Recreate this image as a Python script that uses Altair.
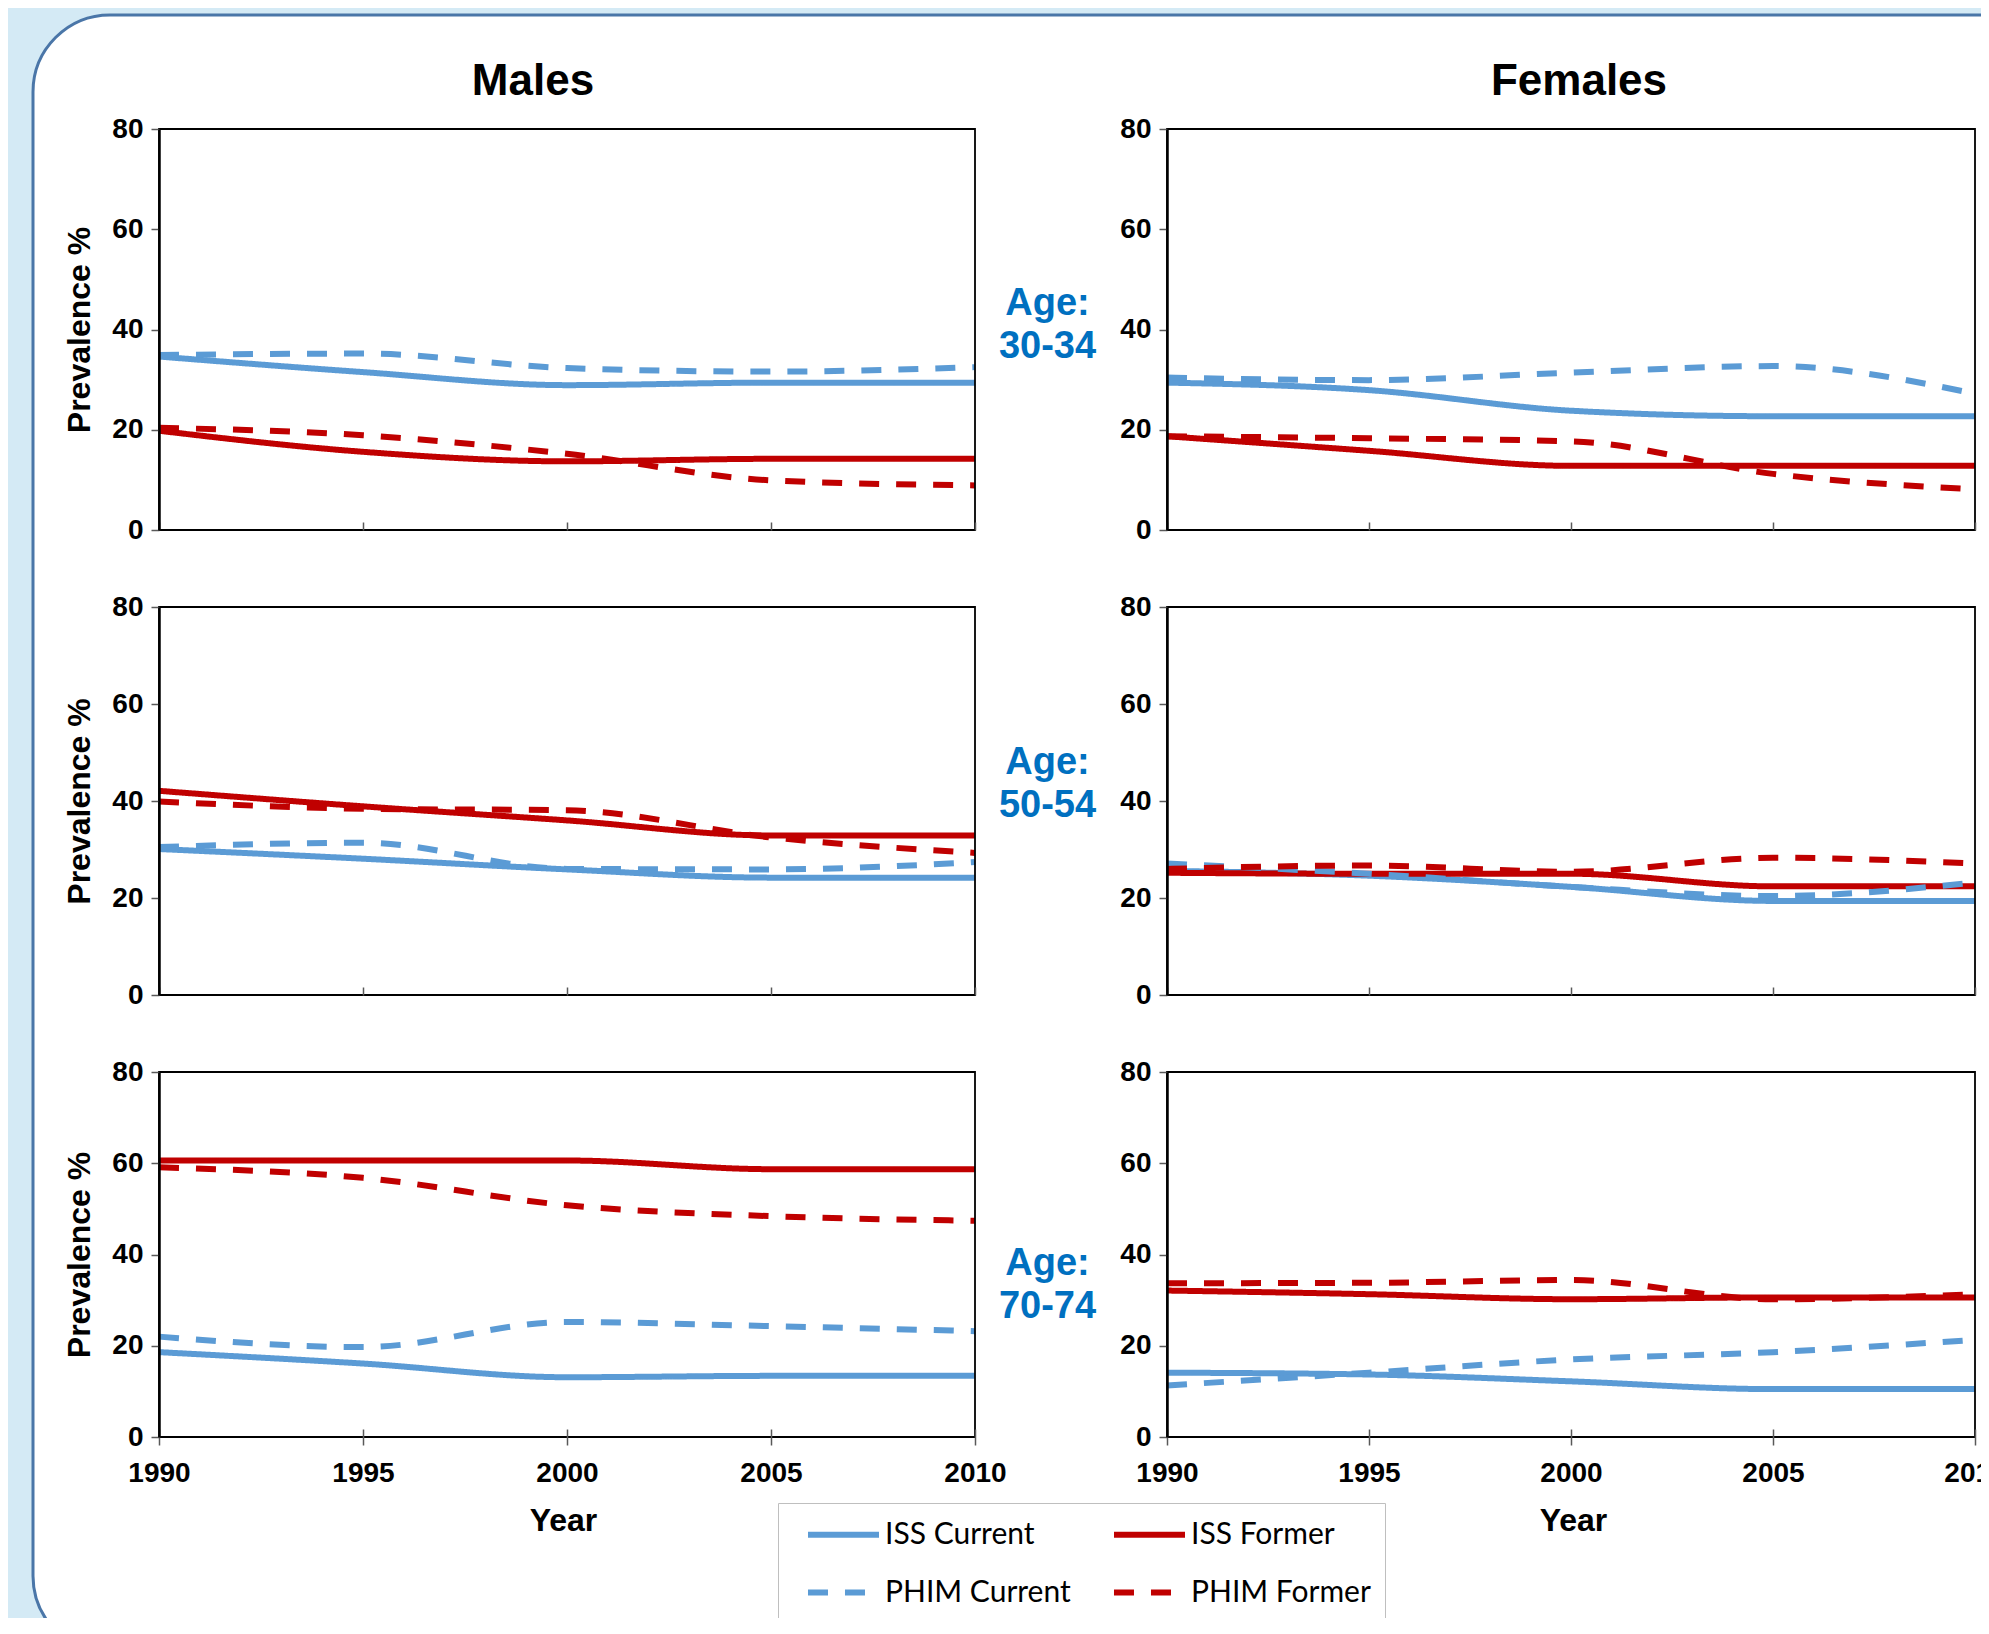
import altair as alt
import pandas as pd

# ---------------- data ----------------
years = [1990, 1995, 2000, 2005, 2010]
series_names = ["ISS Current", "ISS Former", "PHIM Current", "PHIM Former"]
sexes = ["Males", "Females"]
age_groups = ["30-34", "50-54", "70-74"]
y_tick_values = [0, 20, 40, 60, 80]

males_30_34_iss_current = [34.6, 31.5, 28.9, 29.4, 29.4]
males_30_34_iss_former = [19.8, 15.6, 13.7, 14.2, 14.2]
males_30_34_phim_current = [34.9, 35.2, 32.3, 31.6, 32.5]
males_30_34_phim_former = [20.4, 18.9, 15.2, 9.9, 8.9]

females_30_34_iss_current = [29.4, 27.9, 23.8, 22.7, 22.7]
females_30_34_iss_former = [18.7, 15.8, 12.8, 12.8, 12.8]
females_30_34_phim_current = [30.4, 29.9, 31.4, 32.7, 27.2]
females_30_34_phim_former = [18.7, 18.3, 17.7, 11.2, 8.1]

males_50_54_iss_current = [30.1, 28.1, 25.9, 24.2, 24.2]
males_50_54_iss_former = [42.1, 38.9, 36.0, 32.9, 32.9]
males_50_54_phim_current = [30.5, 31.4, 26.0, 25.9, 27.4]
males_50_54_phim_former = [39.9, 38.4, 38.1, 32.5, 29.3]

females_50_54_iss_current = [25.6, 24.6, 22.3, 19.4, 19.4]
females_50_54_iss_former = [25.2, 25.0, 25.0, 22.4, 22.4]
females_50_54_phim_current = [27.1, 25.0, 22.3, 20.4, 23.2]
females_50_54_phim_former = [26.0, 26.7, 25.4, 28.3, 27.1]

males_70_74_iss_current = [18.6, 16.1, 13.1, 13.4, 13.4]
males_70_74_iss_former = [60.6, 60.6, 60.6, 58.7, 58.7]
males_70_74_phim_current = [22.0, 19.7, 25.2, 24.3, 23.2]
males_70_74_phim_former = [59.1, 56.8, 50.8, 48.4, 47.4]

females_70_74_iss_current = [14.1, 13.7, 12.2, 10.5, 10.5]
females_70_74_iss_former = [32.1, 31.3, 30.2, 30.6, 30.6]
females_70_74_phim_current = [11.3, 14.1, 17.0, 18.6, 21.3]
females_70_74_phim_former = [33.7, 33.8, 34.4, 30.2, 31.3]

panel_data = {
    ("Males", "30-34"): [males_30_34_iss_current, males_30_34_iss_former, males_30_34_phim_current, males_30_34_phim_former],
    ("Females", "30-34"): [females_30_34_iss_current, females_30_34_iss_former, females_30_34_phim_current, females_30_34_phim_former],
    ("Males", "50-54"): [males_50_54_iss_current, males_50_54_iss_former, males_50_54_phim_current, males_50_54_phim_former],
    ("Females", "50-54"): [females_50_54_iss_current, females_50_54_iss_former, females_50_54_phim_current, females_50_54_phim_former],
    ("Males", "70-74"): [males_70_74_iss_current, males_70_74_iss_former, males_70_74_phim_current, males_70_74_phim_former],
    ("Females", "70-74"): [females_70_74_iss_current, females_70_74_iss_former, females_70_74_phim_current, females_70_74_phim_former],
}

# ---------------- styles / layout ----------------
SERIES_COLORS = ["#5B9BD5", "#C00000", "#5B9BD5", "#C00000"]
SERIES_DASHES = [[1, 0], [1, 0], [20, 17], [20, 17]]
PANEL_W = [816, 808]
PANEL_H = [401, 388, 365]
AGE_TITLE_Y = [185, 166, 202]
TITLE_DX = [-34, 8]
YEAR_DX = [-4, 2]
FONT = "Liberation Sans"
AGE_COLOR = "#0070C0"


def make_panel(r, c):
    W, H = PANEL_W[c], PANEL_H[r]
    arrays = panel_data[(sexes[c], age_groups[r])]
    rows = []
    for name, vals in zip(series_names, arrays):
        for yr, v in zip(years, vals):
            rows.append({"year": yr, "value": v, "series": name})
    df = pd.DataFrame(rows)
    bottom = r == 2

    xaxis_kw = dict(values=years, format="d", labels=bottom, domain=False,
                    offset=-8, tickSize=16 if bottom else 8, labelPadding=14,
                    labelFlush=False, zindex=1)
    if bottom:
        xaxis_kw.update(titleX=W / 2 + YEAR_DX[c], titleY=101,
                        titleBaseline="alphabetic", titleFontSize=32,
                        titleAlign="center")
    if c == 0:
        y_title = "Prevalence %"
        yaxis_kw = dict(titleAngle=270, titleX=-80, titleY=H / 2,
                        titleAlign="center", titleBaseline="middle",
                        titleFontSize=32)
    else:
        y_title = ["Age:", age_groups[r]]
        yaxis_kw = dict(titleAngle=0, titleX=-120, titleY=AGE_TITLE_Y[r],
                        titleAlign="center", titleBaseline="alphabetic",
                        titleFontSize=38, titleColor=AGE_COLOR,
                        titleLineHeight=43)

    x_enc = alt.X("year:Q", title="Year" if bottom else None,
                  scale=alt.Scale(domain=[1990, 2010], nice=False, zero=False),
                  axis=alt.Axis(**xaxis_kw))
    y_enc = alt.Y("value:Q", title=y_title,
                  scale=alt.Scale(domain=[0, 80], nice=False),
                  axis=alt.Axis(values=y_tick_values, tickSize=8, labelPadding=8,
                                domain=True, domainWidth=2.5, zindex=1, **yaxis_kw))

    lines = alt.Chart(df).mark_line(interpolate="monotone", strokeWidth=6,
                                    strokeCap="butt").encode(
        x=x_enc,
        y=y_enc,
        color=alt.Color("series:N", title=None,
                        scale=alt.Scale(domain=series_names, range=SERIES_COLORS)),
        strokeDash=alt.StrokeDash("series:N", title=None,
                                  scale=alt.Scale(domain=series_names, range=SERIES_DASHES)),
    )

    border = alt.Chart(alt.Data(values=[{}])).mark_rect(
        fillOpacity=0, stroke="black", strokeWidth=1.8
    ).encode(x=alt.value(0), x2=alt.value(W), y=alt.value(0), y2=alt.value(H))

    layers = []
    if r == 0 and c == 0:
        bg = alt.Chart(alt.Data(values=[{}])).mark_rect(
            fill="white", stroke="#4A76A8", strokeWidth=3, cornerRadius=77
        ).encode(x=alt.value(-126), x2=alt.value(1896),
                 y=alt.value(-114), y2=alt.value(1524))
        layers.append(bg)
    layers += [lines, border]
    if r == 0:
        head = alt.Chart(alt.Data(values=[{}])).mark_text(
            font=FONT, fontSize=44, fontWeight="bold", color="black",
            align="center", baseline="alphabetic"
        ).encode(x=alt.value(W / 2 + TITLE_DX[c]), y=alt.value(-34),
                 text=alt.value(sexes[c]))
        layers.append(head)

    return alt.layer(*layers).properties(width=W, height=H)


panels = [make_panel(r, c) for r in range(3) for c in range(2)]

chart = alt.concat(
    *panels, columns=2, spacing={"row": 77, "column": 192},
    bounds="flush", align="each"
).resolve_scale(
    color="shared", strokeDash="shared"
).properties(
    background="#D4EAF5",
    padding={"left": 151, "top": 121, "right": 1822, "bottom": 1489},
    autosize=alt.AutoSizeParams(type="none"),
).configure_view(
    strokeWidth=0
).configure_axis(
    labelFont=FONT, labelFontWeight="bold", labelFontSize=28, labelColor="black",
    titleFont=FONT, titleFontWeight="bold", titleColor="black",
    tickColor="#595959", tickWidth=1.5, domainColor="black", grid=False,
).configure_legend(
    orient="none", legendX=619, legendY=1374, columns=2, direction="horizontal",
    padding=14, strokeColor="#BFBFBF", fillColor="white",
    symbolType="M-2.5,0H2.5", symbolSize=807, symbolStrokeWidth=6,
    symbolOffset=34, labelOffset=24,
    labelFont="Lato", labelFontSize=30, labelColor="black", labelLimit=400,
    columnPadding=27, rowPadding=25,
)

chart.save("out.html", embed_options={"renderer": "svg", "actions": False})
